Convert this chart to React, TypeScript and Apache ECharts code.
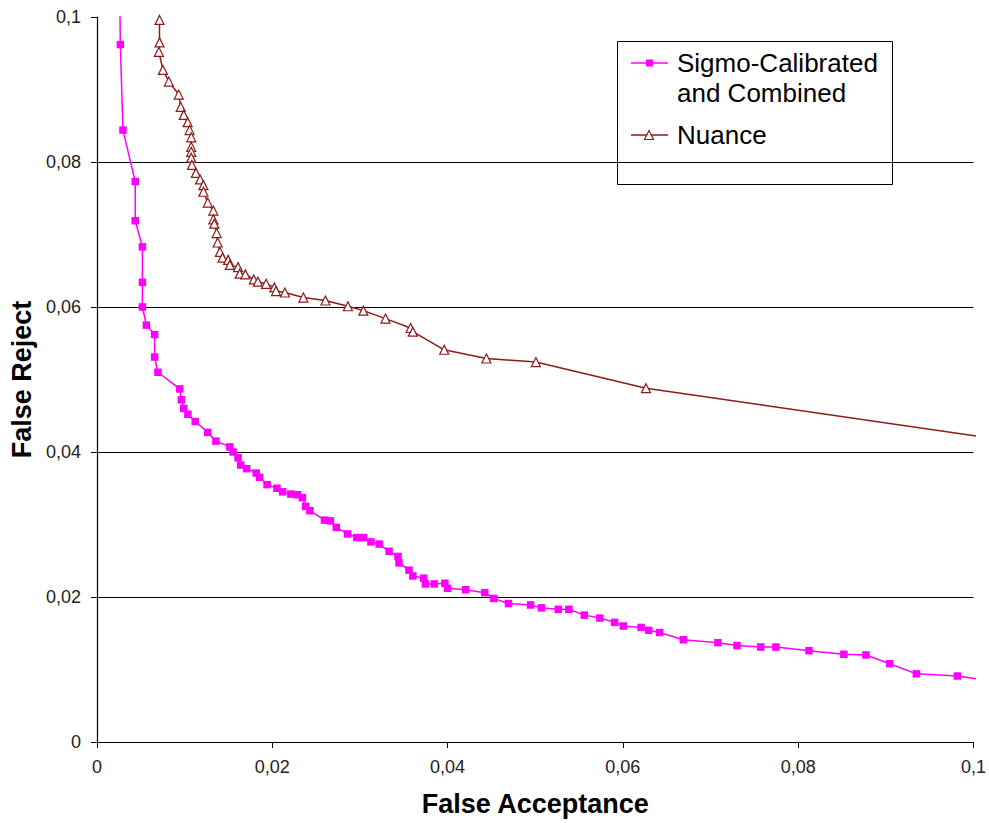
import React, { useEffect, useRef } from "react";
import * as echarts from "echarts";

// Sigmo-Calibrated and Combined: False Acceptance (x) / False Reject (y)
const sigmoFA = [
  0.0026, 0.00267, 0.00297, 0.00437, 0.00437, 0.00519, 0.00519, 0.00519, 0.00564, 0.00658,
  0.00658, 0.00696, 0.00945, 0.00963, 0.0099, 0.01038, 0.01121, 0.01264, 0.01358, 0.01516,
  0.01554, 0.0161, 0.0164, 0.01708, 0.01817, 0.01855, 0.01941, 0.02054, 0.02119, 0.02212,
  0.02288, 0.02344, 0.02381, 0.0243, 0.02596, 0.02664, 0.02731, 0.02859, 0.02965, 0.0304,
  0.03126, 0.0322, 0.03333, 0.03435, 0.03446, 0.0356, 0.03604, 0.03728, 0.03747, 0.03849,
  0.03969, 0.04, 0.04206, 0.04424, 0.04526, 0.04695, 0.04947, 0.05071, 0.05263, 0.05384,
  0.0556, 0.05737, 0.05906, 0.06005, 0.06208, 0.06295, 0.06419, 0.06689, 0.07084, 0.07302,
  0.07573, 0.07746, 0.08123, 0.08521, 0.08773, 0.09044, 0.09349, 0.09816, 0.1005,
];
const sigmoFR = [
  0.104, 0.0962, 0.0844, 0.0773, 0.0719, 0.0683, 0.0634, 0.06, 0.0575, 0.0562,
  0.0531, 0.051, 0.0487, 0.0472, 0.046, 0.0452, 0.0442, 0.0427, 0.0415, 0.0407,
  0.04, 0.0392, 0.0382, 0.0377, 0.0371, 0.0365, 0.0355, 0.035, 0.0345, 0.0342,
  0.0341, 0.0337, 0.0325, 0.0319, 0.0306, 0.0305, 0.0296, 0.0287, 0.0282, 0.0282,
  0.0276, 0.0273, 0.0263, 0.0256, 0.0247, 0.0237, 0.0229, 0.0226, 0.0218, 0.0218,
  0.0219, 0.0212, 0.021, 0.0206, 0.0198, 0.0191, 0.0189, 0.0185, 0.0183, 0.0183,
  0.0175, 0.0171, 0.0165, 0.016, 0.0158, 0.0154, 0.0151, 0.0141, 0.0137, 0.0133,
  0.0131, 0.0131, 0.0126, 0.0121, 0.012, 0.0108, 0.0094, 0.0091, 0.0087,
];

// Nuance
const nuanceFA = [
  0.00714, 0.00714, 0.00707, 0.00753, 0.0082, 0.00933, 0.00956, 0.0099, 0.01035, 0.01057,
  0.01076, 0.01076, 0.01076, 0.01076, 0.01084, 0.01129, 0.01177, 0.01215, 0.01215, 0.01264,
  0.01328, 0.01328, 0.01339, 0.01366, 0.01377, 0.01403, 0.01433, 0.01497, 0.01516, 0.0161,
  0.01629, 0.01693, 0.0179, 0.01836, 0.0193, 0.02024, 0.02043, 0.02144, 0.02355, 0.02607,
  0.02863, 0.0304, 0.03292, 0.03578, 0.03604, 0.03962, 0.04443, 0.05008, 0.06264, 0.1003,
];
const nuanceFR = [
  0.0996, 0.0965, 0.0952, 0.0927, 0.0911, 0.0893, 0.0876, 0.0865, 0.0855, 0.0844,
  0.0834, 0.0821, 0.0814, 0.0806, 0.0796, 0.0785, 0.0776, 0.0768, 0.0759, 0.0744,
  0.0733, 0.0721, 0.0715, 0.0702, 0.0689, 0.0676, 0.0668, 0.0665, 0.0658, 0.0655,
  0.0646, 0.0645, 0.0638, 0.0635, 0.0632, 0.0627, 0.0622, 0.062, 0.0613, 0.0609,
  0.0601, 0.0595, 0.0584, 0.0571, 0.0566, 0.0541, 0.0529, 0.0524, 0.0488, 0.0422,
];

const seriesNames = ["Sigmo-Calibrated\nand Combined", "Nuance"];
const axisMin = 0;
const axisMax = 0.1;
const axisStep = 0.02;

const MAGENTA = "#FF00FF";
const DARKRED = "#8B1A1A";
const FONT = '"Liberation Sans", Arial, sans-serif';

const fmt = (v: number) => parseFloat(v.toFixed(6)).toString().replace(".", ",");

export default function App() {
  const ref = useRef<HTMLDivElement>(null);

  useEffect(() => {
    if (!ref.current) return;
    const chart = echarts.init(ref.current, null, { renderer: "svg" });
    const axisCommon = {
      type: "value",
      min: axisMin,
      max: axisMax,
      interval: axisStep,
      nameLocation: "middle",
      nameTextStyle: { fontFamily: FONT, fontSize: 27, fontWeight: "bold", color: "#000" },
      axisLine: { show: true, lineStyle: { color: "#000", width: 1.2 } },
      axisTick: { show: true, inside: false, length: 6, lineStyle: { color: "#000" } },
      axisLabel: { fontFamily: FONT, fontSize: 18, color: "#222", margin: 16, formatter: fmt },
    };
    chart.setOption({
      animation: false,
      backgroundColor: "#fff",
      grid: { left: 94, top: 17, width: 885, height: 725, containLabel: false },
      xAxis: {
        ...axisCommon,
        name: "False Acceptance",
        nameGap: 48,
        splitLine: { show: false },
      },
      yAxis: {
        ...axisCommon,
        name: "False Reject",
        nameGap: 56,
        splitLine: {
          show: true,
          showMinLine: false,
          showMaxLine: false,
          lineStyle: { color: "#000", width: 1 },
        },
      },
      series: [
        {
          name: seriesNames[0],
          type: "line",
          data: sigmoFA.map((x, i) => [x, sigmoFR[i]]),
          symbol: "rect",
          symbolSize: 7.5,
          showSymbol: true,
          showAllSymbol: true,
          clip: true,
          lineStyle: { color: MAGENTA, width: 1.5 },
          itemStyle: { color: MAGENTA, borderWidth: 0 },
          z: 3,
        },
        {
          name: seriesNames[1],
          type: "line",
          data: nuanceFA.map((x, i) => [x, nuanceFR[i]]),
          symbol: "triangle",
          symbolSize: [9, 9],
          showSymbol: true,
          showAllSymbol: true,
          clip: true,
          lineStyle: { color: DARKRED, width: 1.5 },
          itemStyle: { color: "#fff", borderColor: DARKRED, borderWidth: 1.2 },
          z: 2,
        },
      ],
      graphic: [
        {
          type: "group",
          z: 100,
          children: [
            {
              type: "rect",
              shape: { x: 617.5, y: 41.5, width: 275, height: 143 },
              style: { fill: "#fff", stroke: "#000", lineWidth: 1 },
            },
            {
              type: "line",
              shape: { x1: 631, y1: 63, x2: 668, y2: 63 },
              style: { stroke: MAGENTA, lineWidth: 1.5 },
            },
            {
              type: "rect",
              shape: { x: 646, y: 59.5, width: 7, height: 7 },
              style: { fill: MAGENTA },
            },
            {
              type: "text",
              x: 677,
              y: 48,
              style: {
                text: seriesNames[0],
                font: `26px ${FONT}`,
                lineHeight: 30,
                fill: "#000",
                verticalAlign: "top",
                align: "left",
              },
            },
            {
              type: "line",
              shape: { x1: 631, y1: 135, x2: 668, y2: 135 },
              style: { stroke: DARKRED, lineWidth: 1.5 },
            },
            {
              type: "polygon",
              shape: { points: [[644.5, 139.5], [653.5, 139.5], [649, 130.5]] },
              style: { fill: "#fff", stroke: DARKRED, lineWidth: 1.2 },
            },
            {
              type: "text",
              x: 677,
              y: 135,
              style: {
                text: seriesNames[1],
                font: `26px ${FONT}`,
                fill: "#000",
                verticalAlign: "middle",
                align: "left",
              },
            },
          ],
        },
      ],
    });
    return () => chart.dispose();
  }, []);

  return (
    <div
      ref={ref}
      style={{ position: "fixed", left: 0, top: 0, width: 989, height: 823, background: "#fff" }}
    />
  );
}
